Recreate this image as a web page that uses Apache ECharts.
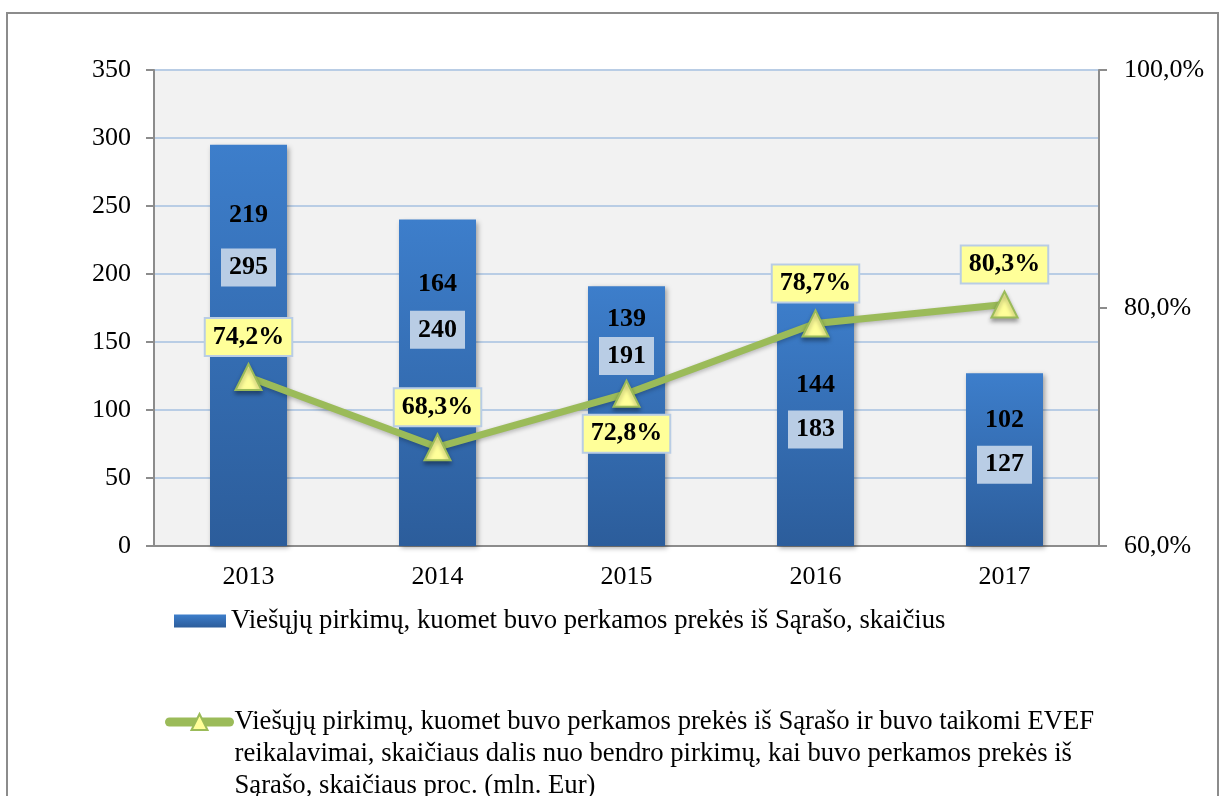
<!DOCTYPE html>
<html>
<head>
<meta charset="utf-8">
<script src="https://cdn.jsdelivr.net/npm/echarts@6/dist/echarts.min.js"></script>
<style>
html, body { margin: 0; padding: 0; background: #fff; }
#chart { width: 1227px; height: 796px; }
</style>
</head>
<body>
<div id="chart"></div>
<script>
// duomenys
const years = ['2013', '2014', '2015', '2016', '2017'];
const purchaseCounts = [295, 240, 191, 183, 127];
const evefCounts = [219, 164, 139, 144, 102];
const evefShares = [74.2, 68.3, 72.8, 78.7, 80.3];

const barName = 'Viešųjų pirkimų, kuomet buvo perkamos prekės iš Sąrašo, skaičius';
const lineName = 'Viešųjų pirkimų, kuomet buvo perkamos prekės iš Sąrašo ir buvo taikomi EVEF reikalavimai, skaičiaus dalis nuo bendro pirkimų, kai buvo perkamos prekės iš Sąrašo, skaičiaus proc. (mln. Eur)';
// tuščios eilutės viršuje, kad ikona būtų ties pirma teksto eilute
const lineLegendText = '\n\nViešųjų pirkimų, kuomet buvo perkamos prekės iš Sąrašo ir buvo taikomi EVEF\nreikalavimai, skaičiaus dalis nuo bendro pirkimų, kai buvo perkamos prekės iš\nSąrašo, skaičiaus proc. (mln. Eur)';

// etikečių poslinkiai (tik stilius)
const totalLabelOffsets = [-78, -53, -60, 8, 5];
const evefLabelOffsets = [-182, -150, -132, -63, -56];
const shareLabelPos = ['top', 'top', 'bottom', 'top', 'top'];

const font = 'Liberation Serif';
const pct = v => v.toFixed(1).replace('.', ',') + '%';

let chart = echarts.init(document.getElementById('chart'));
let option = {
    animation: false,
    textStyle: { fontFamily: font },
    graphic: [{
        type: 'rect',
        shape: { x: 7, y: 13, width: 1211, height: 900 },
        style: { fill: 'none', stroke: '#8c8c8c', lineWidth: 2 },
        silent: true
    }],
    grid: {
        left: 154, right: 128, top: 70, bottom: 250,
        show: true, backgroundColor: '#f2f2f2', borderWidth: 0
    },
    legend: [{
        left: 174, top: 605, padding: 0,
        itemWidth: 52, itemHeight: 13, itemGap: 6,
        icon: 'rect',
        data: [barName],
        textStyle: { fontFamily: font, fontSize: 26.7, color: '#000', lineHeight: 32 }
    }, {
        left: 165, top: 642, padding: 0,
        itemWidth: 60, itemHeight: 20, itemGap: 2,
        data: [lineName],
        formatter: () => lineLegendText,
        lineStyle: { width: 9, cap: 'round' },
        textStyle: { fontFamily: font, fontSize: 26.7, color: '#000', lineHeight: 32 }
    }],
    xAxis: {
        type: 'category',
        data: years,
        axisLine: { lineStyle: { color: '#8c8c8c', width: 2 } },
        axisTick: { length: 7, lineStyle: { color: '#8c8c8c', width: 2 } },
        axisLabel: { fontFamily: font, fontSize: 26, color: '#000', margin: 18 }
    },
    yAxis: [{
        type: 'value', min: 0, max: 350, interval: 50,
        axisLine: { show: true, lineStyle: { color: '#8c8c8c', width: 2 } },
        axisTick: { show: true, length: 8, lineStyle: { color: '#8c8c8c', width: 2 } },
        splitLine: { lineStyle: { color: '#b9cde5', width: 2 } },
        axisLabel: { fontFamily: font, fontSize: 26, color: '#000', margin: 23 }
    }, {
        type: 'value', min: 60, max: 100, interval: 20,
        position: 'right',
        axisLine: { show: true, lineStyle: { color: '#8c8c8c', width: 2 } },
        axisTick: { show: true, length: 8, lineStyle: { color: '#8c8c8c', width: 2 } },
        splitLine: { show: false },
        axisLabel: { fontFamily: font, fontSize: 26, color: '#000', margin: 25, formatter: v => pct(v) }
    }],
    series: [{
        name: barName,
        type: 'bar',
        barWidth: 77,
        barGap: '-100%',
        data: purchaseCounts.map((v, i) => ({ value: v, label: { offset: [0, totalLabelOffsets[i]] } })),
        itemStyle: {
            color: new echarts.graphic.LinearGradient(0, 0, 0, 1, [
                { offset: 0, color: '#3d7ecb' },
                { offset: 1, color: '#2c5d9b' }
            ]),
            shadowColor: 'rgba(0,0,0,0.35)', shadowBlur: 5, shadowOffsetX: 2, shadowOffsetY: 2
        },
        label: {
            show: true, position: 'inside',
            fontFamily: font, fontSize: 26, fontWeight: 'bold', color: '#000',
            backgroundColor: '#b9cde5', padding: [4, 8, 4, 8], lineHeight: 30
        }
    }, {
        name: 'evef',
        type: 'bar',
        barWidth: 77,
        barGap: '-100%',
        data: evefCounts.map((v, i) => ({ value: v, label: { offset: [0, evefLabelOffsets[i]] } })),
        itemStyle: { color: 'rgba(0,0,0,0)' },
        label: {
            show: true, position: 'inside',
            fontFamily: font, fontSize: 26, fontWeight: 'bold', color: '#000'
        },
        silent: true
    }, {
        name: lineName,
        type: 'line',
        yAxisIndex: 1,
        z: 5,
        data: evefShares.map((v, i) => ({ value: v, label: { position: shareLabelPos[i] } })),
        symbol: 'triangle',
        symbolSize: 26,
        lineStyle: { color: '#9bbb59', width: 7, shadowColor: 'rgba(0,0,0,0.25)', shadowBlur: 4, shadowOffsetY: 2 },
        itemStyle: { color: '#ffff99', borderColor: '#9bbb59', borderWidth: 2, shadowColor: 'rgba(0,0,0,0.35)', shadowBlur: 4, shadowOffsetY: 3 },
        label: {
            show: true, distance: 8,
            formatter: p => pct(p.value),
            fontFamily: font, fontSize: 26, fontWeight: 'bold', color: '#000',
            backgroundColor: '#ffff99', borderColor: '#b9cde5', borderWidth: 2,
            padding: [4, 7, 4, 7], lineHeight: 28
        }
    }]
};
chart.setOption(option, true);
window.addEventListener('resize', () => chart.resize());
</script>
</body>
</html>
